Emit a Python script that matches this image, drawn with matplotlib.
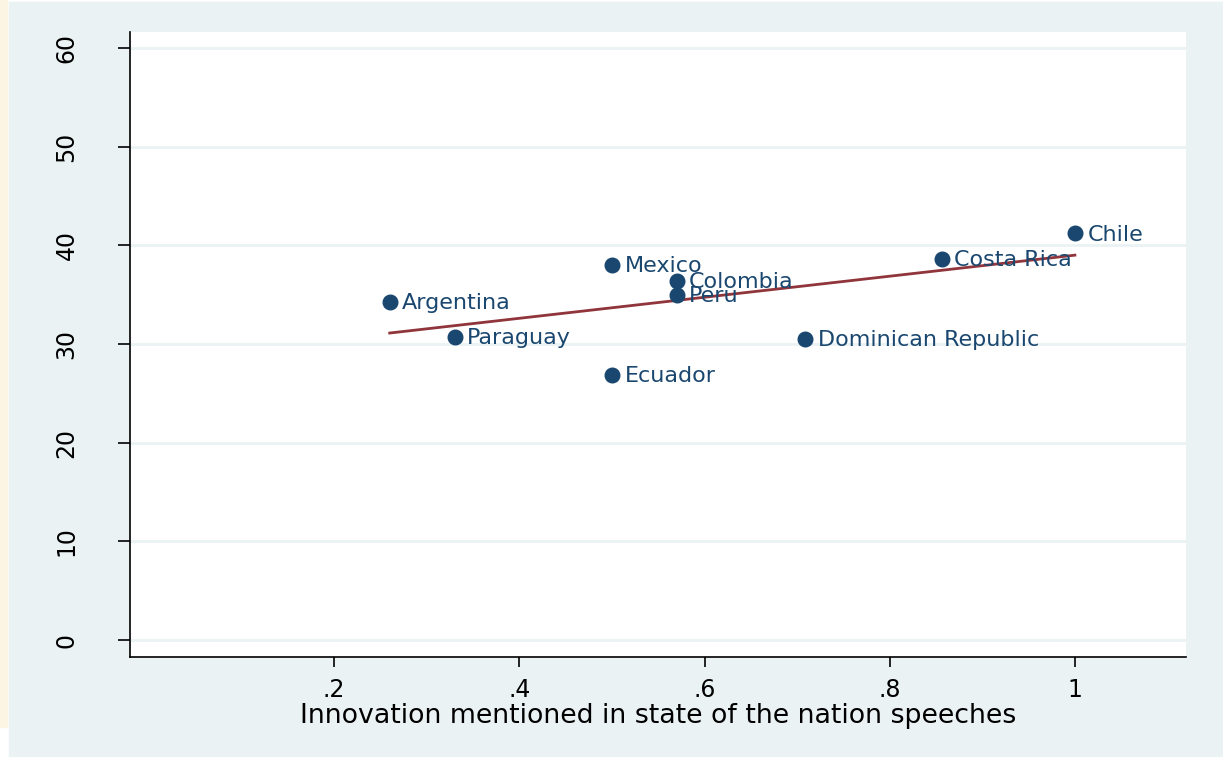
import numpy as np
import matplotlib.pyplot as plt
from matplotlib.patches import Rectangle

countries = ["Argentina", "Paraguay", "Mexico", "Colombia", "Peru",
             "Ecuador", "Dominican Republic", "Costa Rica", "Chile"]
innovation = [0.26, 0.33, 0.50, 0.57, 0.57, 0.50, 0.709, 0.856, 1.00]
score = [34.25, 30.7, 38.0, 36.4, 35.0, 26.85, 30.5, 38.6, 41.2]
xticks = [0.2, 0.4, 0.6, 0.8, 1.0]
xlabels = [".2", ".4", ".6", ".8", "1"]
yticks = [0, 10, 20, 30, 40, 50, 60]

navy = "#1a476f"
maroon = "#90353b"
bg = "#eaf2f3"

plt.rcParams['font.family'] = ['DejaVu Sans']

fig = plt.figure(figsize=(12.23, 7.57), dpi=100)
W, H = 1223, 757
# cream strip at the far left and the grey graph region
fig.add_artist(Rectangle((0, 30 / H), 7 / W, 1 - 30 / H, transform=fig.transFigure,
                         color="#fdf5e4", zorder=-10))
fig.add_artist(Rectangle((9 / W, 0), 1 - 9 / W, 1 - 2 / H, transform=fig.transFigure,
                         color=bg, zorder=-10))

ax = fig.add_axes([130 / W, 1 - 657 / H, (1186 - 130) / W, (657 - 32) / H])
ax.set_facecolor("white")

x = np.array(innovation)
y = np.array(score)
b, a = np.polyfit(x, y, 1)
xs = np.array([x.min(), x.max()])
ax.plot(xs, a + b * xs, color=maroon, lw=2, zorder=3)

ax.plot(x, y, "o", color=navy, markersize=10.5, zorder=4)
for c, xi, yi in zip(countries, x, y):
    ax.annotate(c, (xi, yi), xytext=(9, -1), textcoords="offset points",
                va="center", ha="left", color=navy, fontsize=16, zorder=5)

ax.set_xlim(-0.0205, 1.12)
ax.set_ylim(-1.7, 61.6)
ax.set_xticks(xticks)
ax.set_xticklabels(xlabels)
ax.set_yticks(yticks)
ax.set_yticklabels([str(t) for t in yticks], rotation=90, va="center")
ax.grid(axis="y", color=bg, lw=2)
ax.set_axisbelow(True)

for s in ["top", "right"]:
    ax.spines[s].set_visible(False)
for s in ["left", "bottom"]:
    ax.spines[s].set_color("black")
    ax.spines[s].set_linewidth(1.2)

ax.tick_params(axis="y", length=8.5, width=1.2, pad=28.5, labelsize=17, colors="black")
ax.tick_params(axis="x", length=7, width=1.2, pad=8, labelsize=17, colors="black")
ax.set_xlabel("Innovation mentioned in state of the nation speeches", fontsize=19.3,
              labelpad=1)

fig.savefig("out.png", dpi=100)
